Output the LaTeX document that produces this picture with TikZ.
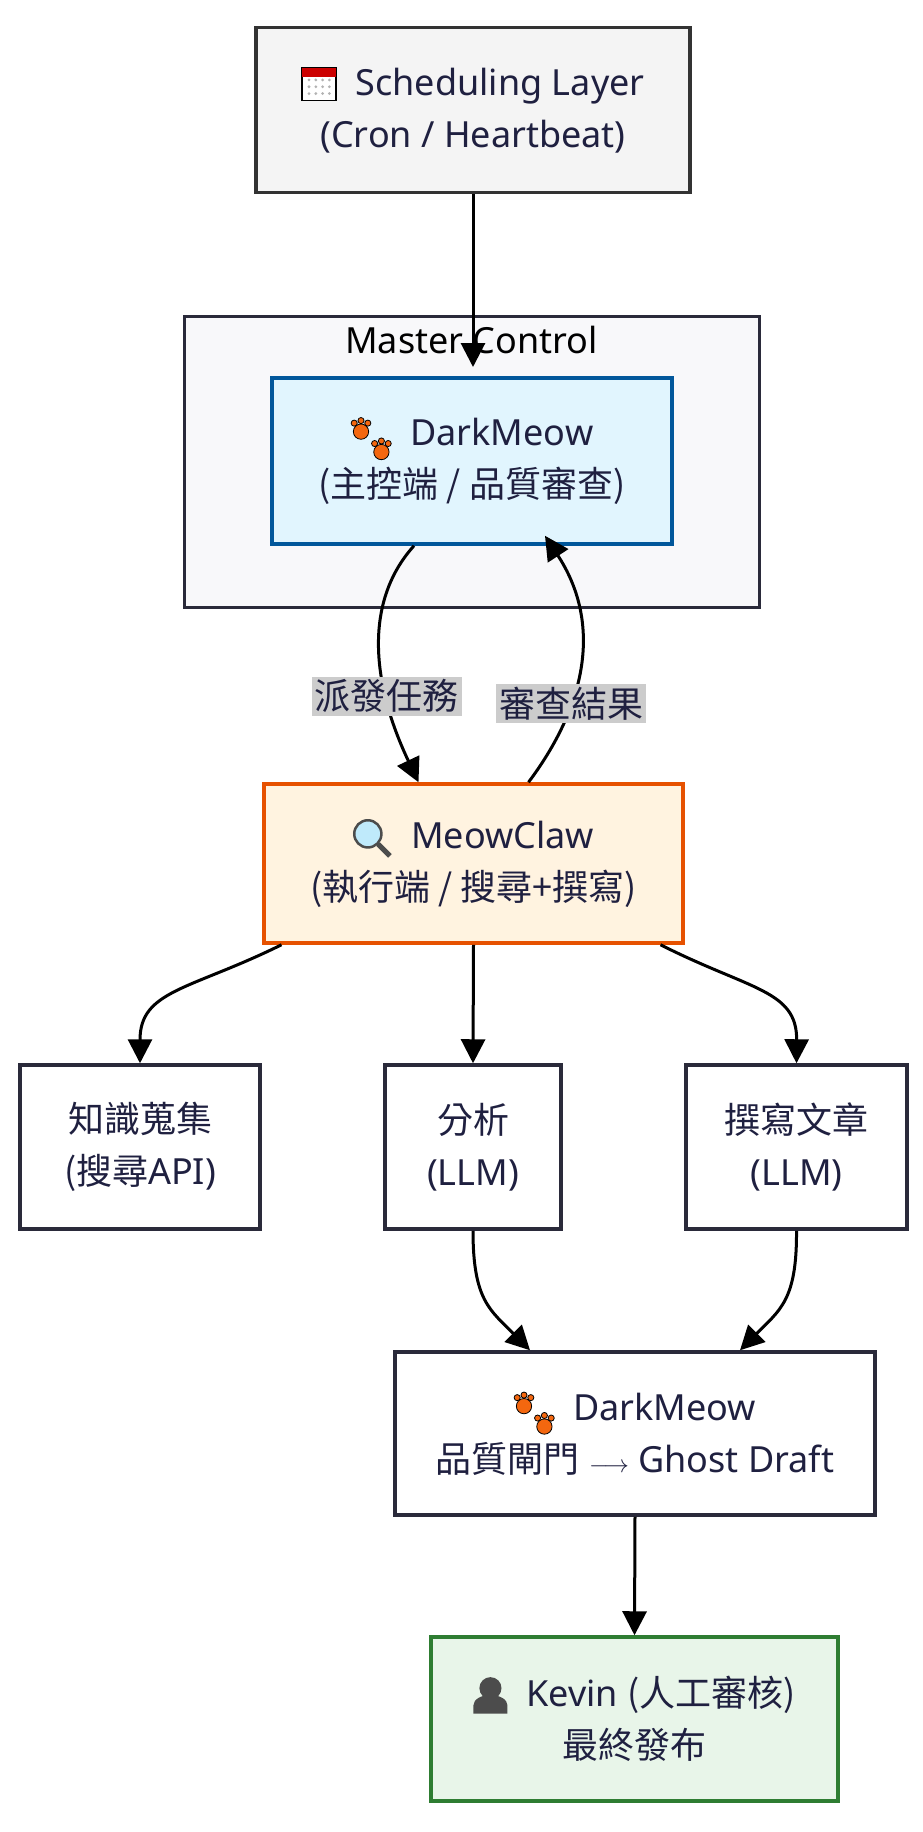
\documentclass[tikz,border=0pt]{standalone}
\usepackage{fontspec}
\setmainfont{Noto Sans}
\newfontfamily\cjk{Noto Sans CJK TC}
\usepackage{tikz}
\usetikzlibrary{arrows.meta,positioning}

\definecolor{ink}{HTML}{1F2040}
\definecolor{edgeblk}{HTML}{2A2A3A}
\definecolor{schedfill}{HTML}{F4F4F4}
\definecolor{clusterfill}{HTML}{F8F8FA}
\definecolor{darkfill}{HTML}{E1F5FE}
\definecolor{darkline}{HTML}{01579B}
\definecolor{meowfill}{HTML}{FFF3E0}
\definecolor{meowline}{HTML}{E65100}
\definecolor{kevinfill}{HTML}{E8F5E9}
\definecolor{kevinline}{HTML}{2E7D32}
\definecolor{pawcol}{HTML}{F4670F}

% small icons
\newcommand{\pawicon}{\tikz[baseline=-4pt,x=1.7pt,y=1.7pt]{
  \fill[pawcol,draw=black,line width=.8pt] (0,6) circle (4.5) (12,-6) circle (4.5);
  \fill[pawcol,draw=black,line width=.8pt] (-4,11) circle (1.8) (0,12.5) circle (1.8) (4,11) circle (1.8);
  \fill[pawcol,draw=black,line width=.8pt] (8,-1) circle (1.8) (12,0.5) circle (1.8) (16,-1) circle (1.8);}}
\newcommand{\calicon}{\tikz[baseline=-10pt,x=1.7pt,y=1.7pt]{
  \draw[black,fill=white,line width=1.5pt] (-10,-9) rectangle (10,10);
  \fill[red!80!black] (-10,5) rectangle (10,10);
  \foreach \i in {-6,-2,2,6} \foreach \j in {-5,-1,3} \fill[black!30] (\i,\j) circle (0.9);}}
\newcommand{\lensicon}{\tikz[baseline=-10pt,x=1.7pt,y=1.7pt]{
  \draw[black!70,line width=5pt] (3,-3) -- (10,-10);
  \draw[black!70,fill=cyan!25,line width=2.5pt] (-3,3) circle (8);}}
\newcommand{\personicon}{\tikz[baseline=-10pt,x=1.7pt,y=1.7pt]{
  \fill[black!70] (-10,-10) -- (-10,-5) arc (180:0:10 and 6) -- (10,-10) -- cycle;
  \fill[black!70] (0,5) circle (6.5);}}

\tikzset{
  box/.style={draw=edgeblk, line width=3.5pt, fill=white, text=ink,
    align=center, inner sep=0pt, font=\fontsize{36}{52}\selectfont},
  flow/.style={draw=black, line width=3pt, -{Triangle[length=24pt,width=24pt]}},
  tag/.style={fill=black!20, text=ink, inner sep=3pt, font=\cjk\fontsize{36}{40}\selectfont}
}

\begin{document}
\begin{tikzpicture}[x=1pt,y=-1pt]
  \useasboundingbox (0,0) rectangle (922,1832);

  \node[box, fill=clusterfill, line width=3pt, minimum width=575pt, minimum height=291pt] (cluster) at (471.5,461.5) {};
  \node[text=black, font=\fontsize{36}{40}\selectfont] (clustertitle) at (471.5,340) {Master Control};

  \node[box, fill=schedfill, draw=black!80, minimum width=434pt, minimum height=165pt] (sched) at (473,110)
    {\calicon\ \ Scheduling Layer\\(Cron / Heartbeat)};

  \node[box, fill=darkfill, draw=darkline, minimum width=400pt, minimum height=166pt] (dark) at (472,461)
    {\pawicon\ \ DarkMeow\\{\cjk (主控端 / 品質審查)}};

  \node[box, fill=meowfill, draw=meowline, minimum width=419pt, minimum height=159pt] (meow) at (473.5,863.5)
    {\lensicon\ \ MeowClaw\\{\cjk (執行端 / 搜尋+撰寫)}};

  \node[box, minimum width=240pt, minimum height=164pt] (collect) at (140,1147) {{\cjk 知識蒐集}\\{\cjk (搜尋}API)};
  \node[box, minimum width=176pt, minimum height=164pt] (analyze) at (473,1147) {{\cjk 分析}\\(LLM)};
  \node[box, minimum width=221pt, minimum height=164pt] (compose) at (796.5,1147) {{\cjk 撰寫文章}\\(LLM)};

  \node[box, minimum width=480pt, minimum height=163pt] (gate) at (635,1433.5)
    {\pawicon\ \ DarkMeow\\{\cjk 品質閘門} $\longrightarrow$ Ghost Draft};

  \node[box, fill=kevinfill, draw=kevinline, minimum width=407pt, minimum height=164pt] (kevin) at (634.5,1719)
    {\personicon\ \ Kevin {\cjk (人工審核)}\\{\cjk 最終發布}};

  % connectors
  \coordinate (darkin) at (473,367);
  \draw[flow] (sched.south) -- (darkin);

  \coordinate (dispatchout) at ([xshift=-58pt]dark.south);
  \coordinate (dispatchin) at ([xshift=-55pt]meow.north);
  \draw[flow] (dispatchout) .. controls (365,600) and (370,680) .. (dispatchin)
    node[tag, pos=0.7] {派發任務};

  \coordinate (reviewout) at ([xshift=55pt]meow.north);
  \coordinate (reviewin) at ([xshift=73pt,yshift=10pt]dark.south);
  \draw[flow] (reviewout) .. controls (590,700) and (600,620) .. (reviewin)
    node[tag, pos=0.32] {審查結果};

  \draw[flow] ([xshift=-192pt]meow.south) .. controls (190,990) and (140,990) .. (collect.north);
  \draw[flow] (meow.south) -- (analyze.north);
  \draw[flow] ([xshift=187pt]meow.south) .. controls (750,990) and (797,990) .. (compose.north);

  \draw[flow] (analyze.south) .. controls (473,1300) and (490,1310) .. ([xshift=-105pt]gate.north);
  \draw[flow] (compose.south) .. controls (797,1300) and (780,1310) .. ([xshift=105pt]gate.north);

  \draw[flow] (gate.south) -- (kevin.north);
\end{tikzpicture}
\end{document}
